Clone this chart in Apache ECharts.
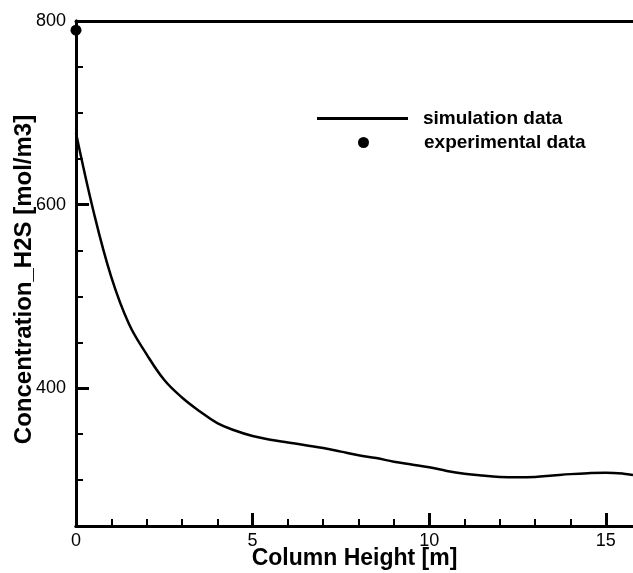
<!DOCTYPE html>
<html>
<head>
<meta charset="utf-8">
<script src="https://cdn.jsdelivr.net/npm/echarts@6/dist/echarts.min.js"></script>
<style>html,body{margin:0;padding:0;background:#fff;}#c{width:633px;height:573px;}</style>
</head>
<body>
<div id="c"></div>
<script>
// Simulation curve: column height [m] and H2S concentration [mol/m3]
const simHeight = [0, 0.5, 1.0, 1.5, 2.0, 2.5, 3.0, 3.5, 4.0, 4.5, 5.0, 5.5, 6.0, 6.5, 7.0, 7.5, 8.0, 8.5, 9.0, 9.5, 10.0, 10.5, 11.0, 11.5, 12.0, 12.5, 13.0, 13.5, 14.0, 14.5, 15.0, 15.5, 15.77];
const simConc   = [678, 592, 521, 470, 437, 409, 390, 375, 362, 354, 348, 344, 341, 338, 335, 331, 327, 324, 320, 317, 314, 310, 307, 305, 303.5, 303, 303.5, 305, 306.5, 307.5, 308, 307, 305.5];
// Experimental data
const expHeight = [0];
const expConc   = [790];
// Tick labels / values
const xMajorTicks = [0, 5, 10, 15];
const xMinorTicks = [1, 2, 3, 4, 6, 7, 8, 9, 11, 12, 13, 14];
const yMajorTicks = [400, 600, 800];
const yMinorTicks = [300, 350, 450, 500, 550, 650, 700, 750];

const FONT = 'Arial, "Liberation Sans", sans-serif';
const chart = echarts.init(document.getElementById('c'));
const axisLine = {show: true, onZero: false, lineStyle: {color: '#000', width: 3}};
chart.setOption({
  animation: false,
  backgroundColor: '#fff',
  grid: {left: 76, right: 0, top: 21, bottom: 47, containLabel: false, outerBoundsMode: 'none'},
  xAxis: [
    {
      type: 'value', min: 0, max: 15.77, position: 'bottom',
      name: 'Column Height [m]', nameLocation: 'middle', nameGap: 21, nameMoveOverlap: false,
      nameTextStyle: {fontFamily: FONT, fontWeight: 'bold', fontSize: 23, color: '#000'},
      axisLine: axisLine,
      axisTick: {show: true, inside: true, length: 13, lineStyle: {color: '#000', width: 3}, customValues: xMajorTicks},
      axisLabel: {show: true, margin: 6, fontFamily: FONT, fontSize: 18, color: '#000', customValues: xMajorTicks},
      splitLine: {show: false}
    },
    {
      type: 'value', min: 0, max: 15.77, position: 'bottom',
      axisLine: axisLine,
      axisTick: {show: true, inside: true, length: 7, lineStyle: {color: '#000', width: 2}, customValues: xMinorTicks},
      axisLabel: {show: false},
      splitLine: {show: false}
    },
    {
      type: 'value', min: 0, max: 15.77, position: 'top',
      axisLine: axisLine,
      axisTick: {show: false}, axisLabel: {show: false}, splitLine: {show: false}
    }
  ],
  yAxis: [
    {
      type: 'value', min: 250, max: 800, position: 'left',
      name: 'Concentration_H2S [mol/m3]', nameLocation: 'middle', nameGap: 40, nameMoveOverlap: false,
      nameTextStyle: {fontFamily: FONT, fontWeight: 'bold', fontSize: 24, color: '#000', padding: [0, 12, 0, 0]},
      axisLine: axisLine,
      axisTick: {show: true, inside: true, length: 13, lineStyle: {color: '#000', width: 3}, customValues: yMajorTicks},
      axisLabel: {show: true, margin: 10, fontFamily: FONT, fontSize: 18, color: '#000', customValues: yMajorTicks},
      splitLine: {show: false}
    },
    {
      type: 'value', min: 250, max: 800, position: 'left',
      axisLine: axisLine,
      axisTick: {show: true, inside: true, length: 7, lineStyle: {color: '#000', width: 2}, customValues: yMinorTicks},
      axisLabel: {show: false},
      splitLine: {show: false}
    }
  ],
  legend: [
    {
      data: [{name: 'simulation data', icon: 'rect'}], left: 317, top: 109, padding: 0, itemWidth: 91, itemHeight: 3,
      itemStyle: {color: '#000', opacity: 1},
      textStyle: {fontFamily: FONT, fontWeight: 'bold', fontSize: 19, color: '#000', padding: [0, 0, 0, 10]}
    },
    {
      data: [{name: 'experimental data', icon: 'circle'}], left: 358, top: 133, padding: 0, itemWidth: 11, itemHeight: 11,
      itemStyle: {color: '#000', opacity: 1},
      textStyle: {fontFamily: FONT, fontWeight: 'bold', fontSize: 19, color: '#000', padding: [0, 0, 0, 50]}
    }
  ],
  series: [
    {
      name: 'simulation data', type: 'line', xAxisIndex: 0, yAxisIndex: 0,
      data: simHeight.map((h, i) => [h, simConc[i]]),
      smooth: 0.4, showSymbol: false, symbol: 'none',
      lineStyle: {color: '#000', width: 2.5}, itemStyle: {color: '#000'}
    },
    {
      name: 'experimental data', type: 'scatter', xAxisIndex: 0, yAxisIndex: 0,
      data: expHeight.map((h, i) => [h, expConc[i]]),
      symbol: 'circle', symbolSize: 11, itemStyle: {color: '#000', opacity: 1}, clip: false, z: 5
    }
  ]
});
</script>
</body>
</html>
